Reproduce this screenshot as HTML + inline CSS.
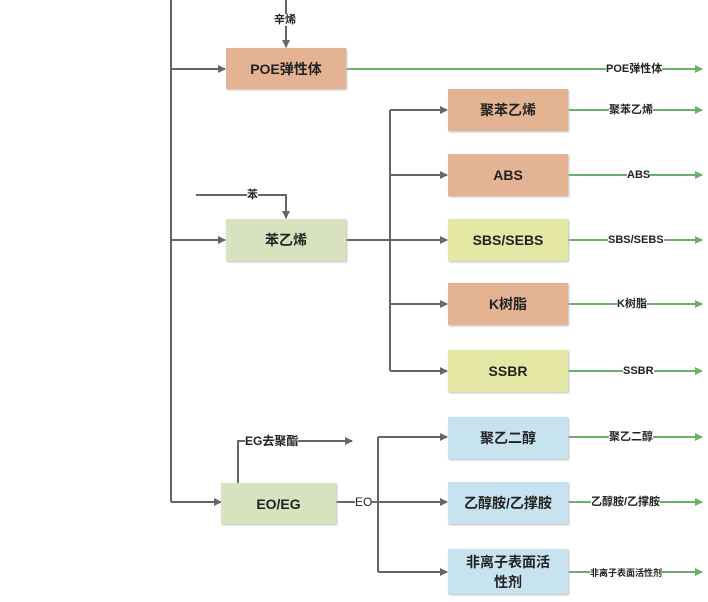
<!DOCTYPE html>
<html><head><meta charset="utf-8"><style>
body{margin:0;width:708px;height:602px;background:#fff;overflow:hidden;position:relative;font-family:"Liberation Sans","Noto Sans CJK SC",sans-serif}
.b{position:absolute;display:flex;align-items:center;justify-content:center;text-align:center;font-size:14px;font-weight:bold;color:#222;box-shadow:1px 1px 2px #bbb}
.o{background:#e4b393}.g{background:#d8e2bf}.y{background:#e5e8a4}.bl{background:#c7e3f0}
.l{position:absolute;font-size:11px;background:#fff;color:#222;line-height:12px;font-weight:bold}
svg{position:absolute;left:0;top:0}
</style></head><body>
<svg width="708" height="602">
<defs>
<marker id="a" markerWidth="8" markerHeight="8" refX="7" refY="4" orient="auto" markerUnits="userSpaceOnUse"><path d="M0,0L8,4L0,8z" fill="#666"/></marker>
<marker id="ga" markerWidth="8" markerHeight="8" refX="7" refY="4" orient="auto" markerUnits="userSpaceOnUse"><path d="M0,0L8,4L0,8z" fill="#6ab06a"/></marker>
</defs>
<g stroke="#666" stroke-width="2" fill="none">
<path d="M171,0V502"/>
<path d="M171,69H225" marker-end="url(#a)"/>
<path d="M171,240H225" marker-end="url(#a)"/>
<path d="M171,502H221" marker-end="url(#a)"/>
<path d="M286,0V47" marker-end="url(#a)"/>
<path d="M196,195H286V218" marker-end="url(#a)"/>
<path d="M346,240H447" marker-end="url(#a)"/>
<path d="M390,110V371"/>
<path d="M390,110H447" marker-end="url(#a)"/>
<path d="M390,175H447" marker-end="url(#a)"/>
<path d="M390,304H447" marker-end="url(#a)"/>
<path d="M390,371H447" marker-end="url(#a)"/>
<path d="M238,483V441H352" marker-end="url(#a)"/>
<path d="M336,502H447" marker-end="url(#a)"/>
<path d="M378,437V572"/>
<path d="M378,437H447" marker-end="url(#a)"/>
<path d="M378,572H447" marker-end="url(#a)"/>
</g>
<g stroke="#6ab06a" stroke-width="2" fill="none">
<path d="M346,69H702" marker-end="url(#ga)"/>
<path d="M568,110H702" marker-end="url(#ga)"/>
<path d="M568,175H702" marker-end="url(#ga)"/>
<path d="M568,240H702" marker-end="url(#ga)"/>
<path d="M568,304H702" marker-end="url(#ga)"/>
<path d="M568,371H702" marker-end="url(#ga)"/>
<path d="M568,437H702" marker-end="url(#ga)"/>
<path d="M568,502H702" marker-end="url(#ga)"/>
<path d="M568,572H702" marker-end="url(#ga)"/>
</g>
</svg>
<div class="b o" style="left:226px;top:48px;width:120px;height:41px">POE弹性体</div>
<div class="b g" style="left:226px;top:219px;width:120px;height:42px">苯乙烯</div>
<div class="b g" style="left:221px;top:483px;width:115px;height:41px">EO/EG</div>
<div class="b o" style="left:448px;top:89px;width:120px;height:42px">聚苯乙烯</div>
<div class="b o" style="left:448px;top:154px;width:120px;height:42px">ABS</div>
<div class="b y" style="left:448px;top:219px;width:120px;height:42px">SBS/SEBS</div>
<div class="b o" style="left:448px;top:283px;width:120px;height:42px">K树脂</div>
<div class="b y" style="left:448px;top:350px;width:120px;height:42px">SSBR</div>
<div class="b bl" style="left:448px;top:417px;width:120px;height:42px">聚乙二醇</div>
<div class="b bl" style="left:448px;top:482px;width:120px;height:42px">乙醇胺/乙撑胺</div>
<div class="b bl" style="left:448px;top:549px;width:120px;height:45px;line-height:20px">非离子表面活<br>性剂</div>
<div class="l" style="left:274px;top:14px">辛烯</div>
<div class="l" style="left:247px;top:189px">苯</div>
<div class="l" style="left:245px;top:435px;font-size:12px">EG去聚酯</div>
<div class="l" style="left:355px;top:496px;font-size:12px;font-weight:normal">EO</div>
<div class="l" style="left:606px;top:63px">POE弹性体</div>
<div class="l" style="left:609px;top:104px">聚苯乙烯</div>
<div class="l" style="left:627px;top:169px">ABS</div>
<div class="l" style="left:608px;top:234px">SBS/SEBS</div>
<div class="l" style="left:617px;top:298px">K树脂</div>
<div class="l" style="left:623px;top:365px">SSBR</div>
<div class="l" style="left:609px;top:431px">聚乙二醇</div>
<div class="l" style="left:591px;top:496px">乙醇胺/乙撑胺</div>
<div class="l" style="left:590px;top:567px;font-size:9px">非离子表面活性剂</div>
</body></html>
